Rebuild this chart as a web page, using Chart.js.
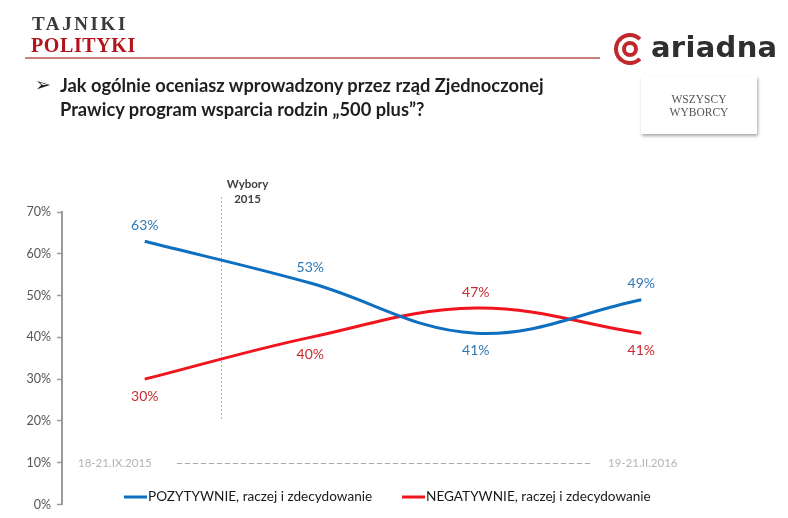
<!DOCTYPE html>
<html><head><meta charset="utf-8">
<script src="https://cdn.jsdelivr.net/npm/chart.js@4.4.1/dist/chart.umd.min.js"></script>
<style>
html,body{margin:0;padding:0;background:#fff;}
#wrap{position:relative;width:788px;height:518px;overflow:hidden;font-family:Lato,"Open Sans",sans-serif;}
#c{position:absolute;left:0;top:0;}
.abs{position:absolute;white-space:nowrap;}
#tj1{left:32px;top:13px;font-family:"Liberation Serif",serif;font-weight:bold;font-size:19px;color:#3a3a3a;letter-spacing:2.6px;}
#tj2{left:31px;top:34px;font-family:"Liberation Serif",serif;font-weight:bold;font-size:20px;color:#b3141b;letter-spacing:0.6px;}
#hr{left:25px;top:57px;width:575px;height:2px;background:#c77f80;}
#ico{left:614px;top:33px;width:24px;height:24px;border:4px solid #c0282d;border-radius:50%;border-right-color:transparent;}
#ico2{left:622px;top:41px;width:8px;height:8px;border:4px solid #c0282d;border-radius:50%;}
#ar{left:651px;top:30px;font-family:"DejaVu Sans",sans-serif;font-weight:bold;font-size:29px;color:#2f2f2f;letter-spacing:0.3px;}
#box{left:641px;top:76px;width:116px;height:58px;background:#fff;box-shadow:1px 2px 3px rgba(0,0,0,0.35);}
#box div{position:absolute;width:100%;text-align:center;font-family:"Liberation Serif",serif;font-size:11.5px;color:#555;}
#tb{left:35px;top:73px;font-family:"DejaVu Sans",sans-serif;font-size:19px;color:#222;}
#t1{left:60px;top:74px;font-weight:bold;font-size:18.3px;color:#1f1f1f;}
#t2{left:60px;top:98px;font-weight:bold;font-size:18.3px;color:#1f1f1f;}
</style></head>
<body>
<div id="wrap">
<canvas id="c" width="788" height="518"></canvas>
<div class="abs" id="tj1">TAJNIKI</div>
<div class="abs" id="tj2">POLITYKI</div>
<div class="abs" id="hr"></div>
<div class="abs" id="ico"></div>
<div class="abs" id="ico2"></div>
<div class="abs" id="ar">ariadna</div>
<div class="abs" id="box"><div style="top:17px">WSZYSCY</div><div style="top:30px">WYBORCY</div></div>
<div class="abs" id="tb">➢</div>
<div class="abs" id="t1">Jak ogólnie oceniasz wprowadzony przez rząd Zjednoczonej</div>
<div class="abs" id="t2">Prawicy program wsparcia rodzin „500 plus”?</div>
</div>
<script>
const categories = ['18-21.IX.2015', 'pomiar 2', 'pomiar 3', '19-21.II.2016'];
const pozytywnie = [63, 53, 41, 49];
const negatywnie = [30, 40, 47, 41];
const seriesNames = ['POZYTYWNIE, raczej i zdecydowanie', 'NEGATYWNIE, raczej i zdecydowanie'];
const yTicks = [0, 10, 20, 30, 40, 50, 60, 70];
const startLabel = '18-21.IX.2015';
const endLabel = '19-21.II.2016';
const electionLabel = ['Wybory', '2015'];

const FONT = 'Lato, "Open Sans", sans-serif';

const overlay = {
  id: 'overlay',
  beforeDatasetsDraw(chart) {
    const ctx = chart.ctx, x = chart.scales.x, y = chart.scales.y;
    ctx.save();
    // election divider
    const ex = Math.round(x.getPixelForValue(0.46)) + 0.5;
    ctx.strokeStyle = '#b8b8b8'; ctx.lineWidth = 1; ctx.setLineDash([2, 2]);
    ctx.beginPath(); ctx.moveTo(ex, 197); ctx.lineTo(ex, y.getPixelForValue(20)); ctx.stroke();
    ctx.setLineDash([]);
    ctx.fillStyle = '#404040'; ctx.font = 'bold 11.5px ' + FONT; ctx.textAlign = 'center'; ctx.textBaseline = 'middle';
    ctx.fillText(electionLabel[0], ex + 26, 184);
    ctx.fillText(electionLabel[1], ex + 26, 199);
    // period line
    const py = Math.round(y.getPixelForValue(10)) + 0.5;
    ctx.strokeStyle = '#a8a8a8'; ctx.setLineDash([5, 3]); ctx.lineWidth = 1;
    ctx.beginPath(); ctx.moveTo(177, py); ctx.lineTo(590, py); ctx.stroke();
    ctx.setLineDash([]);
    ctx.fillStyle = '#b4b4b4'; ctx.font = '11.5px ' + FONT;
    ctx.textAlign = 'left'; ctx.fillText(startLabel, 78, py);
    ctx.fillText(endLabel, 608, py);
    ctx.restore();
  },
  afterDatasetsDraw(chart) {
    const ctx = chart.ctx;
    ctx.save();
    ctx.font = '14px ' + FONT; ctx.textAlign = 'center'; ctx.textBaseline = 'middle';
    chart.data.datasets.forEach((ds, i) => {
      const meta = chart.getDatasetMeta(i);
      meta.data.forEach((pt, j) => {
        const off = ds.labelPos[j] === 'above' ? -16 : 17;
        ctx.fillStyle = ds.labelColor;
        ctx.fillText(ds.data[j] + '%', pt.x, pt.y + off);
      });
    });
    // legend
    const ly = 497;
    const items = [[124, chart.data.datasets[0]], [402, chart.data.datasets[1]]];
    ctx.font = '13.6px ' + FONT; ctx.textAlign = 'left';
    items.forEach(([lx, ds]) => {
      ctx.strokeStyle = ds.borderColor; ctx.lineWidth = 3;
      ctx.beginPath(); ctx.moveTo(lx, ly); ctx.lineTo(lx + 23, ly); ctx.stroke();
      ctx.fillStyle = '#1a1a1a';
      ctx.fillText(ds.label, lx + 24, ly);
    });
    ctx.restore();
  }
};

new Chart(document.getElementById('c'), {
  type: 'line',
  data: {
    labels: categories,
    datasets: [
      { label: seriesNames[0], data: pozytywnie, borderColor: '#0d6fbf', labelColor: '#2e78b6',
        labelPos: ['above', 'above', 'below', 'above'] },
      { label: seriesNames[1], data: negatywnie, borderColor: '#f0141e', labelColor: '#cc2a30',
        labelPos: ['below', 'below', 'above', 'below'] }
    ]
  },
  options: {
    responsive: false, animation: false,
    layout: { padding: { left: 0, right: 64, top: 212, bottom: 13 } },
    elements: { line: { borderWidth: 3, tension: 0.38, fill: false }, point: { radius: 0 } },
    plugins: { legend: { display: false }, tooltip: { enabled: false } },
    scales: {
      x: { display: false, offset: true },
      y: {
        min: 0, max: 70,
        afterBuildTicks: s => { s.ticks = yTicks.map(v => ({ value: v })); },
        afterFit: s => { s.width = 62; },
        border: { display: true, color: '#9a9a9a', width: 2 },
        grid: { display: true, drawOnChartArea: false, drawTicks: true, tickLength: 5, color: '#9a9a9a', tickWidth: 1.5 },
        ticks: { callback: v => v + '%', color: '#555', font: { family: FONT, size: 12.5 }, padding: 6 }
      }
    }
  },
  plugins: [overlay]
});
</script>
</body></html>
